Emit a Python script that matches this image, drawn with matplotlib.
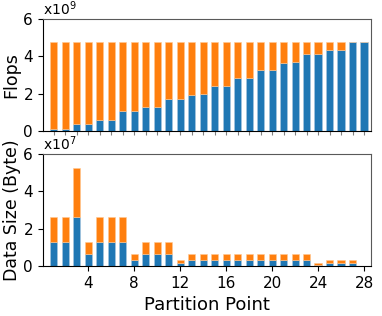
import numpy as np
import matplotlib
matplotlib.use("Agg")
import matplotlib.pyplot as plt
from matplotlib.ticker import FuncFormatter

# partition points 1..28
points = list(range(1, 29))

# flops executed before / after the partition point
flops_total = 4.75e9
flops_front = [0.09e9, 0.12e9, 0.36e9, 0.38e9, 0.60e9, 0.62e9, 1.06e9, 1.08e9,
               1.29e9, 1.31e9, 1.72e9, 1.73e9, 1.95e9, 1.96e9, 2.40e9, 2.41e9,
               2.82e9, 2.83e9, 3.25e9, 3.27e9, 3.67e9, 3.69e9, 4.12e9, 4.13e9,
               4.33e9, 4.35e9, 4.75e9, 4.75e9]
flops_back = [flops_total - f for f in flops_front]

# transferred data size, two equal parts
data_low = [1.31e7, 1.31e7, 2.63e7, 0.65e7, 1.31e7, 1.31e7, 1.31e7, 0.33e7,
            0.65e7, 0.65e7, 0.65e7, 0.16e7, 0.33e7, 0.33e7, 0.33e7, 0.33e7,
            0.33e7, 0.33e7, 0.33e7, 0.33e7, 0.33e7, 0.33e7, 0.33e7, 0.08e7,
            0.16e7, 0.16e7, 0.16e7, 0.0]
data_high = [1.31e7, 1.31e7, 2.63e7, 0.65e7, 1.31e7, 1.31e7, 1.31e7, 0.33e7,
             0.65e7, 0.65e7, 0.65e7, 0.16e7, 0.33e7, 0.33e7, 0.33e7, 0.33e7,
             0.33e7, 0.33e7, 0.33e7, 0.33e7, 0.33e7, 0.33e7, 0.33e7, 0.08e7,
             0.16e7, 0.16e7, 0.16e7, 0.0]

blue = "#1f77b4"
orange = "#ff7f0e"
w = 0.62

fig = plt.figure(figsize=(3.82, 3.16), dpi=100)
ax1 = fig.add_axes([0.112, 0.585, 0.859, 0.355])
ax2 = fig.add_axes([0.112, 0.158, 0.859, 0.354])

ax1.bar(points, flops_front, w, color=blue, edgecolor="#a9c8e0", linewidth=0.4)
ax1.bar(points, flops_back, w, bottom=flops_front, color=orange,
        edgecolor="#ffc891", linewidth=0.4)
ax1.set_ylim(0, 6e9)
ax1.set_yticks([0, 2e9, 4e9, 6e9])
ax1.yaxis.set_major_formatter(FuncFormatter(lambda v, p: "%d" % round(v / 1e9)))
ax1.set_xticks(points)
ax1.set_xticklabels([])
ax1.tick_params(axis="x", length=3, color="0.5")
ax1.set_ylabel("Flops", fontsize=12.5, labelpad=2)
ax1.text(0.0, 1.01, r"x$10^9$", transform=ax1.transAxes, fontsize=10, va="bottom")

ax2.bar(points, data_low, w, color=blue, edgecolor="#a9c8e0", linewidth=0.4)
ax2.bar(points, data_high, w, bottom=data_low, color=orange,
        edgecolor="#ffc891", linewidth=0.4)
ax2.set_ylim(0, 6e7)
ax2.set_yticks([0, 2e7, 4e7, 6e7])
ax2.yaxis.set_major_formatter(FuncFormatter(lambda v, p: "%d" % round(v / 1e7)))
ax2.set_xticks([4, 8, 12, 16, 20, 24, 28])
ax2.set_ylabel("Data Size (Byte)", fontsize=12.5, labelpad=2)
ax2.set_xlabel("Partition Point", fontsize=13)
ax2.text(0.0, 1.01, r"x$10^7$", transform=ax2.transAxes, fontsize=10, va="bottom")

for ax in (ax1, ax2):
    ax.set_xlim(0.05, 28.6)
    ax.tick_params(axis="both", labelsize=11)
    for s in ("top", "right"):
        ax.spines[s].set_color("0.35")

fig.savefig("out.png", dpi=100)
